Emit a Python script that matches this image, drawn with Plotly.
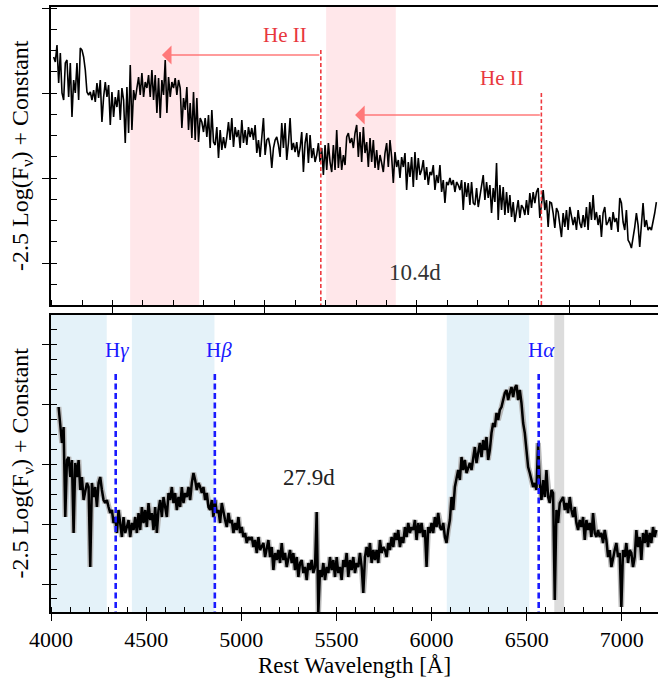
import numpy as np
import plotly.graph_objects as go

# ---------------- data ----------------
# rest wavelength grids (Angstrom)
wl_top = np.arange(4014, 7185, 8.75)
wl_bot = np.arange(4040, 7185, 8.75)

# 10.4d spectrum, -2.5 log(F_nu) + const (magnitude-like, larger = fainter)
mag_top = [
    0.49, 0.54, 0.37, 0.75, 0.45, 0.85, 0.92, 0.55, 0.52, 0.89,
    0.55, 1.09, 0.72, 0.85, 0.55, 0.92, 0.40, 0.42, 0.49, 0.62,
    0.84, 0.87, 0.84, 0.92, 0.82, 0.94, 0.75, 0.90, 0.72, 1.14,
    0.89, 0.74, 0.89, 0.77, 1.17, 0.84, 1.09, 0.89, 0.99, 0.82,
    1.12, 0.80, 0.92, 1.35, 0.79, 1.25, 0.57, 1.22, 0.82, 0.92,
    0.80, 0.69, 0.87, 0.65, 0.89, 0.74, 0.80, 0.67, 0.89, 0.62,
    0.92, 0.67, 1.05, 0.70, 1.10, 0.72, 0.87, 0.52, 1.05, 0.69,
    0.89, 0.74, 0.80, 0.70, 0.87, 0.72, 0.80, 1.20, 0.90, 1.02,
    0.79, 1.22, 0.95, 1.30, 0.84, 1.32, 0.90, 1.34, 1.10, 1.14,
    1.24, 1.10, 1.29, 1.07, 1.40, 1.02, 1.34, 1.37, 1.19, 1.50,
    1.22, 1.42, 1.29, 1.40, 1.29, 1.14, 1.32, 1.10, 1.39, 1.19,
    1.29, 1.22, 1.40, 1.12, 1.35, 1.22, 1.37, 1.19, 1.29,
    1.20, 1.32, 1.17, 1.45, 1.32, 1.49, 1.25, 1.10, 1.47, 1.32,
    1.30, 1.39, 1.60, 1.40, 1.32, 1.29, 1.37, 1.49, 1.15, 1.40,
    1.15, 1.52, 1.35, 1.10, 1.42, 1.35, 1.44, 1.34, 1.49, 1.40,
    1.24, 1.64, 1.35, 1.25, 1.55, 1.27, 1.50, 1.40, 1.54, 1.47,
    1.35, 1.54, 1.40, 1.67, 1.37, 1.62, 1.35, 1.54, 1.64, 1.37,
    1.62, 1.22, 1.60, 1.39, 1.62, 1.47, 1.57, 1.29, 1.25, 1.35,
    1.30, 1.40, 1.25, 1.17, 1.49, 1.24, 1.54, 1.19, 1.45, 1.34,
    1.59, 1.30, 1.54, 1.32, 1.60, 1.42, 1.62, 1.47, 1.55, 1.64,
    1.45, 1.35, 1.59, 1.32, 1.49, 1.75, 1.44, 1.59, 1.52, 1.70,
    1.49, 1.59, 1.45, 1.82, 1.54, 1.69, 1.49, 1.79, 1.44, 1.72,
    1.50, 1.67, 1.62, 1.52, 1.72, 1.59, 1.77, 1.64, 1.67, 1.57,
    1.82, 1.67, 1.75, 1.57, 1.84, 1.72, 1.95, 1.74, 1.77, 1.70,
    1.77, 1.72, 1.84, 1.74, 1.77, 1.82, 1.72, 2.02, 1.74, 1.89,
    1.75, 1.97, 1.74, 1.95, 1.97, 1.80, 1.99, 1.87, 1.80, 1.67,
    1.92, 1.74, 1.90, 1.77, 2.05, 1.80, 1.94, 1.55, 2.12, 1.77,
    2.02, 1.79, 2.07, 1.84, 2.05, 1.87, 2.09, 1.94, 2.14, 2.04,
    1.92, 2.10, 1.97, 2.00, 2.07, 1.92, 2.07, 1.85, 2.00, 1.84,
    1.95, 1.84, 1.80, 2.10, 1.95, 1.82, 2.02, 1.92, 2.19, 1.94,
    1.95, 2.05, 2.20, 2.00, 2.04, 2.15, 2.29, 2.05, 2.19, 2.02,
    2.22, 1.99, 2.07, 2.17, 2.09, 2.22, 2.02, 2.15, 2.20, 2.07,
    2.19, 1.99, 2.22, 1.94, 2.12, 1.87, 2.12, 2.04, 2.17, 2.07,
    2.29, 2.05, 1.99, 2.17, 2.14, 2.09, 2.22, 2.04, 2.14, 2.10,
    2.24, 1.90, 1.95, 2.14, 2.22, 2.02, 2.32, 2.35, 2.40, 2.30,
    2.19, 2.05, 2.17, 2.39, 2.12, 1.95, 2.19, 2.12, 2.22, 2.19,
    2.22, 2.15, 2.05, 1.94,
]

# 27.9d spectrum
mag_bot = [
    0.63, 0.86, 0.99, 0.83, 1.73, 1.16, 1.13, 1.33, 1.16, 1.89,
    1.19, 1.33, 1.16, 1.46, 1.33, 1.56, 1.49, 1.39, 1.43, 2.23,
    1.39, 1.53, 1.43, 1.63, 1.39, 1.33, 1.46, 1.56, 1.59, 1.56,
    1.63, 1.69, 1.66, 1.79, 1.73, 1.89, 1.66, 1.83, 1.93, 1.73,
    1.89, 1.83, 1.76, 1.93, 1.79, 1.86, 1.73, 1.89, 1.69, 1.86,
    1.63, 1.79, 1.66, 1.83, 1.59, 1.76, 1.69, 1.86, 1.63, 1.89,
    1.66, 1.56, 1.73, 1.53, 1.63, 1.73, 1.49, 1.56, 1.43, 1.59,
    1.49, 1.66, 1.53, 1.63, 1.43, 1.59, 1.49, 1.53, 1.43, 1.56,
    1.39, 1.29, 1.36, 1.46, 1.39, 1.43, 1.49, 1.43, 1.56, 1.49,
    1.63, 1.66, 1.56, 1.73, 1.56, 1.69, 1.66, 1.79, 1.59, 1.69,
    1.76, 1.83, 1.69, 1.79, 1.76, 1.89, 1.79, 1.86, 1.73, 1.89,
    1.83, 1.93, 1.89, 1.99, 1.93, 1.96,
    1.93, 2.03, 1.96, 2.09, 1.93, 2.06, 2.03, 1.99, 2.13, 2.06,
    1.96, 2.13, 2.03, 2.26, 2.09, 2.16, 2.06, 2.19, 1.99, 2.16,
    2.09, 2.23, 2.13, 2.06, 2.19, 2.09, 2.26, 2.13, 2.33, 2.19,
    2.16, 2.29, 2.23, 2.36, 2.19, 2.26, 2.16, 2.29, 2.23, 1.68,
    2.68, 2.26, 2.33, 2.19, 2.36, 2.23, 2.29, 2.13, 2.26, 2.16,
    2.33, 2.13, 2.29, 2.23, 2.36, 2.16, 2.23, 2.09, 2.33, 2.16,
    2.26, 2.13, 2.29, 2.19, 2.23, 2.09, 2.23, 2.49, 2.13, 2.03,
    2.13, 1.99, 2.19, 2.06, 2.16, 2.06, 2.19, 1.96, 2.09, 2.03,
    2.06, 2.13, 1.99, 2.06, 1.93, 2.03, 1.89, 1.96, 1.86, 2.03,
    1.93, 1.99, 1.83, 1.93, 1.79, 1.89, 1.83, 1.86, 1.76, 1.96,
    1.79, 1.89, 1.79, 1.93, 1.86, 2.23, 1.83, 1.89, 1.79, 1.89,
    1.73, 1.83, 1.69, 1.83,
    1.86, 1.79, 1.93, 1.99, 1.86, 1.76, 1.53, 1.66, 1.43, 1.33,
    1.26, 1.36, 1.13, 1.26, 1.16, 1.29, 1.23, 1.19, 1.26, 1.16,
    1.03, 1.19, 1.09, 0.99, 1.13, 0.96, 1.06, 0.93, 1.16, 1.06,
    0.89, 0.79, 0.83, 0.69, 0.76, 0.66, 0.63, 0.56, 0.49, 0.46,
    0.56, 0.49, 0.43, 0.53, 0.44, 0.41, 0.56, 0.46, 0.59, 0.79,
    0.89, 1.06, 1.23, 1.29, 1.36, 1.43, 1.39, 1.46, 0.99, 1.39,
    1.56, 1.36, 1.53, 1.26, 1.53, 1.59, 1.46, 1.49, 2.56, 1.66,
    1.79, 1.59, 1.56, 1.53, 1.66, 1.59, 1.69, 1.53, 1.66, 1.73,
    1.63, 1.79, 1.86, 1.76, 1.83, 1.73, 1.96, 1.76, 1.86, 1.79,
    1.93, 1.69, 1.89, 1.93, 1.86, 1.93, 1.89, 1.99, 1.86, 1.96,
    2.13, 2.06, 2.23, 2.13, 2.06, 1.99, 2.13, 2.09, 2.63, 2.06,
    2.13, 1.99, 2.19, 2.06, 2.09, 2.23, 2.13, 1.86, 2.03, 1.93,
    2.16, 1.89, 1.99, 1.86, 2.03, 1.89, 1.99, 1.83, 1.93, 1.86,
]

# annotations / features
heii_lines = [5418, 6577]          # dashed He II positions
heii_line_top = [0.42, 0.85]        # upper end of dashed lines (top-panel units)
heii_arrow_tip = [4583, 5598]       # arrow heads (blue edge)
heii_arrow_y = [0.47, 1.07]
heii_label_x = [5230, 6368]
heii_label_y = [0.27, 0.70]
pink_bands = [(4416, 4779), (5446, 5812)]

h_lines = [4340, 4861, 6563]
h_labels = ["H<i>γ</i>", "H<i>β</i>", "H<i>α</i>"]
h_label_x = [4348, 4882, 6580]
h_label_y = 0.06
h_line_top = 0.30
blue_bands = [(3990, 4293), (4425, 4859), (6080, 6513)]
grey_band = (6645, 6697)

epoch_top = ("10.4d", 5915, 2.64)
epoch_bot = ("27.9d", 5355, 1.33)

XR = [4000, 7190]
YR_TOP = [2.97, -0.01]
YR_BOT = [2.68, -0.29]
DOM_TOP = [0.5074, 1]
DOM_BOT = [0, 0.4909]

FONT = "Liberation Serif"

# ---------------- figure ----------------
fig = go.Figure()

fig.add_trace(go.Scatter(x=wl_top[:len(mag_top)], y=mag_top, mode="lines",
                         line=dict(color="black", width=1.6),
                         xaxis="x", yaxis="y", showlegend=False, hoverinfo="skip"))
fig.add_trace(go.Scatter(x=wl_bot[:len(mag_bot)], y=mag_bot, mode="lines",
                         line=dict(color="#b8b8b8", width=5.5),
                         xaxis="x2", yaxis="y2", showlegend=False, hoverinfo="skip"))
fig.add_trace(go.Scatter(x=wl_bot[:len(mag_bot)], y=mag_bot, mode="lines",
                         line=dict(color="black", width=2.5),
                         xaxis="x2", yaxis="y2", showlegend=False, hoverinfo="skip"))

shapes = []
for a, b in pink_bands:
    shapes.append(dict(type="rect", xref="x", yref="y domain", x0=a, x1=b, y0=0, y1=1,
                       fillcolor="#ffe7ea", line=dict(width=0), layer="below"))
for a, b in blue_bands:
    shapes.append(dict(type="rect", xref="x2", yref="y2 domain", x0=a, x1=b, y0=0, y1=1,
                       fillcolor="#e4f2f9", line=dict(width=0), layer="below"))
shapes.append(dict(type="rect", xref="x2", yref="y2 domain", x0=grey_band[0], x1=grey_band[1],
                   y0=0, y1=1, fillcolor="#dcdcdc", line=dict(width=0), layer="below"))
for xl, yt in zip(heii_lines, heii_line_top):
    shapes.append(dict(type="line", xref="x", yref="y", x0=xl, x1=xl, y0=yt, y1=YR_TOP[0],
                       line=dict(color="#ee3a3f", width=1.6, dash="4px,2.5px")))
for xl in h_lines:
    shapes.append(dict(type="line", xref="x2", yref="y2", x0=xl, x1=xl, y0=h_line_top, y1=YR_BOT[0],
                       line=dict(color="#1a1aff", width=2.6, dash="6px,3.5px")))

annotations = []
for tip, xl, yv in zip(heii_arrow_tip, heii_lines, heii_arrow_y):
    annotations.append(dict(x=tip, y=yv, xref="x", yref="y", ax=xl, ay=yv, axref="x", ayref="y",
                            showarrow=True, arrowhead=1, arrowsize=2.0, arrowwidth=1.6,
                            arrowcolor="rgba(255,110,110,0.9)", standoff=0, text=""))
for lx, ly in zip(heii_label_x, heii_label_y):
    annotations.append(dict(x=lx, y=ly, xref="x", yref="y", text="He II", showarrow=False,
                            font=dict(family=FONT, size=21, color="#e8383d")))
for txt, lx in zip(h_labels, h_label_x):
    annotations.append(dict(x=lx, y=h_label_y, xref="x2", yref="y2", text=txt, showarrow=False,
                            font=dict(family=FONT, size=21, color="#1a1aff")))
annotations.append(dict(x=epoch_top[1], y=epoch_top[2], xref="x", yref="y", text=epoch_top[0],
                        showarrow=False, font=dict(family=FONT, size=23, color="#333333")))
annotations.append(dict(x=epoch_bot[1], y=epoch_bot[2], xref="x2", yref="y2", text=epoch_bot[0],
                        showarrow=False, font=dict(family=FONT, size=23, color="#222222")))

# y-axis titles (placed as rotated annotations, left of the panels)
ytitle = "-2.5 Log(F<sub>ν</sub>) + Constant"
for dom in (DOM_TOP, DOM_BOT):
    annotations.append(dict(x=0, y=(dom[0] + dom[1]) / 2, xref="paper", yref="paper",
                            xshift=-29, text=ytitle, textangle=-90, showarrow=False,
                            xanchor="center", yanchor="middle",
                            font=dict(family=FONT, size=24, color="black")))

axis_common = dict(showgrid=False, zeroline=False, linecolor="black", linewidth=2,
                   ticks="outside", ticklen=7, tickwidth=1.3, tickcolor="black",
                   automargin=False)

fig.update_layout(
    width=658, height=681,
    margin=dict(l=51, r=0, t=7, b=69),
    paper_bgcolor="white", plot_bgcolor="white",
    font=dict(family=FONT, color="black"),
    shapes=shapes, annotations=annotations,
    xaxis=dict(domain=[0, 1], anchor="y", range=XR, mirror=True, showticklabels=False,
               tickmode="linear", tick0=4323, dtick=800,
               minor=dict(ticks="inside", ticklen=5, tick0=4003, dtick=160,
                          tickwidth=1.3, tickcolor="black"),
               **axis_common),
    yaxis=dict(domain=DOM_TOP, anchor="x", range=YR_TOP, showticklabels=False,
               tickmode="linear", tick0=0, dtick=0.85,
               minor=dict(ticks="inside", ticklen=6, tick0=0, dtick=0.2125,
                          tickwidth=1.3, tickcolor="black"),
               **axis_common),
    xaxis2=dict(domain=[0, 1], anchor="y2", range=XR, mirror=True,
                tickmode="linear", tick0=4000, dtick=500,
                tickfont=dict(family=FONT, size=22),
                minor=dict(ticks="inside", ticklen=5, tick0=4000, dtick=100,
                           tickwidth=1.3, tickcolor="black"),
                title=dict(text="Rest Wavelength [Å]", font=dict(family=FONT, size=23), standoff=5),
                **axis_common),
    yaxis2=dict(domain=DOM_BOT, anchor="x2", range=YR_BOT, showticklabels=False,
                tickmode="linear", tick0=0, dtick=0.6,
                minor=dict(ticks="inside", ticklen=6, tick0=0, dtick=0.15,
                           tickwidth=1.3, tickcolor="black"),
                **axis_common),
)

fig.write_html("out.html", config={"displayModeBar": False},
               post_script="document.body.style.margin='0';")
